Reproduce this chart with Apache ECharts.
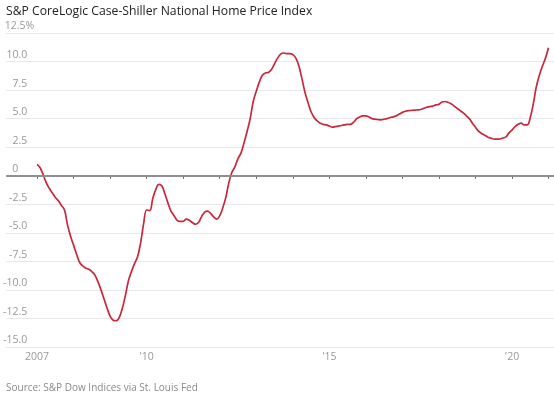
<!DOCTYPE html>
<html>
<head>
<meta charset="utf-8">
<title>S&amp;P CoreLogic Case-Shiller National Home Price Index</title>
<script src="https://cdn.jsdelivr.net/npm/echarts@6/dist/echarts.min.js"></script>
<style>
  html, body { margin: 0; padding: 0; background: #fff; }
  #chart { width: 554px; height: 398px; }
</style>
</head>
<body>
<div id="chart"></div>
<script>
// monthly year-over-year change, %, Jan 2007 .. Jan 2021
var startYear = 2007;
var yoy2007 = [1.0, 0.7, 0.1, -0.6, -1.1, -1.5, -1.9, -2.2, -2.6, -3.0, -4.3, -5.3];
var yoy2008 = [-6.1, -6.9, -7.6, -7.9, -8.1, -8.2, -8.4, -8.7, -9.3, -10.0, -10.8, -11.6];
var yoy2009 = [-12.3, -12.65, -12.7, -12.4, -11.6, -10.5, -9.2, -8.4, -7.7, -7.1, -5.9, -4.2];
var yoy2010 = [-3.0, -3.05, -2.0, -1.2, -0.75, -0.9, -1.6, -2.4, -3.1, -3.5, -3.9, -4.0];
var yoy2011 = [-4.0, -3.8, -3.9, -4.1, -4.25, -4.1, -3.6, -3.2, -3.1, -3.3, -3.6, -3.8];
var yoy2012 = [-3.5, -2.8, -1.9, -0.6, 0.3, 0.8, 1.5, 2.0, 2.9, 3.9, 5.0, 6.5];
var yoy2013 = [7.4, 8.2, 8.8, 9.0, 9.05, 9.3, 9.8, 10.3, 10.65, 10.75, 10.7, 10.7];
var yoy2014 = [10.6, 10.3, 9.6, 8.5, 7.3, 6.4, 5.6, 5.1, 4.8, 4.6, 4.5, 4.45];
var yoy2015 = [4.35, 4.25, 4.3, 4.35, 4.4, 4.45, 4.5, 4.5, 4.7, 5.0, 5.15, 5.25];
var yoy2016 = [5.25, 5.15, 5.0, 4.95, 4.92, 4.9, 4.95, 5.0, 5.1, 5.15, 5.25, 5.4];
var yoy2017 = [5.55, 5.65, 5.7, 5.72, 5.75, 5.76, 5.8, 5.9, 6.0, 6.05, 6.1, 6.2];
var yoy2018 = [6.25, 6.45, 6.5, 6.42, 6.3, 6.1, 5.9, 5.7, 5.5, 5.25, 5.0, 4.6];
var yoy2019 = [4.25, 3.9, 3.7, 3.55, 3.4, 3.3, 3.22, 3.2, 3.22, 3.3, 3.4, 3.75];
var yoy2020 = [4.0, 4.3, 4.5, 4.6, 4.45, 4.45, 5.1, 6.3, 7.8, 8.8, 9.6, 10.3];
var yoy2021 = [11.2];

var tickYears = [2007, 2008, 2009, 2010, 2011, 2012, 2013, 2014, 2015, 2016, 2017, 2018, 2019, 2020, 2021];
var labelYears = [2007, 2010, 2015, 2020];
var yearLabels = { 2007: '2007', 2010: "'10", 2015: "'15", 2020: "'20" };

var yoy = [].concat(yoy2007, yoy2008, yoy2009, yoy2010, yoy2011, yoy2012, yoy2013,
                    yoy2014, yoy2015, yoy2016, yoy2017, yoy2018, yoy2019, yoy2020, yoy2021);
var points = yoy.map(function (v, i) { return [startYear + i / 12, v]; });

var font = "'Open Sans', 'Noto Sans', sans-serif";
var labelStyle = { color: '#999', fontSize: 10.5, fontFamily: font };
var chart = echarts.init(document.getElementById('chart'), null, { renderer: 'canvas' });

chart.setOption({
    animation: false,
    textStyle: { fontFamily: font },
    title: [{
        text: 'S&P CoreLogic Case-Shiller National Home Price Index',
        left: 1, top: 1,
        textStyle: { fontFamily: font, fontSize: 12.2, fontWeight: 'normal', color: '#222' }
    }, {
        text: 'Source: S&P Dow Indices via St. Louis Fed',
        left: 1, top: 378,
        textStyle: { fontFamily: font, fontSize: 10, fontWeight: 'normal', color: '#8a8a8a' }
    }],
    grid: { left: 5, right: 0, top: 33, bottom: 51 },
    xAxis: {
        type: 'value',
        min: 2006.153,
        max: 2021.15,
        axisLine: { show: false },
        splitLine: { show: false },
        axisTick: {
            show: true, length: 3, customValues: tickYears,
            lineStyle: { color: '#555', width: 1 }
        },
        axisLabel: {
            customValues: labelYears,
            margin: 5,
            color: '#999',
            fontSize: 10.5,
            fontFamily: font,
            formatter: function (v) { return yearLabels[Math.round(v)] || ''; }
        }
    },
    yAxis: {
        type: 'value',
        min: -15,
        max: 12.5,
        interval: 2.5,
        axisLine: { show: false },
        axisTick: { show: false },
        splitLine: { lineStyle: { color: '#e8e8e8', width: 1 } },
        axisLabel: {
            inside: true,
            margin: 28,
            align: 'right',
            verticalAlign: 'bottom',
            padding: [0, 0, 1, 0],
            color: '#999',
            fontSize: 10.5,
            fontFamily: font,
            formatter: function (v) {
                if (v === 0) return '{z|0}';
                if (v === 12.5) return '{t|12.5%}';
                return '{n|' + v.toFixed(1) + '}';
            },
            rich: {
                n: Object.assign({ padding: [0, 7, 0, 0] }, labelStyle),
                z: Object.assign({ padding: [0, 16, 0, 0] }, labelStyle),
                t: Object.assign({}, labelStyle)
            }
        }
    },
    series: [{
        type: 'line',
        data: points,
        showSymbol: false,
        smooth: 0.4,
        lineStyle: { color: '#c9283a', width: 1.7 },
        markLine: {
            silent: true,
            symbol: 'none',
            label: { show: false },
            lineStyle: { color: '#8f8f8f', width: 2, type: 'solid' },
            data: [{ yAxis: 0 }]
        },
        z: 3
    }]
});
</script>
</body>
</html>
